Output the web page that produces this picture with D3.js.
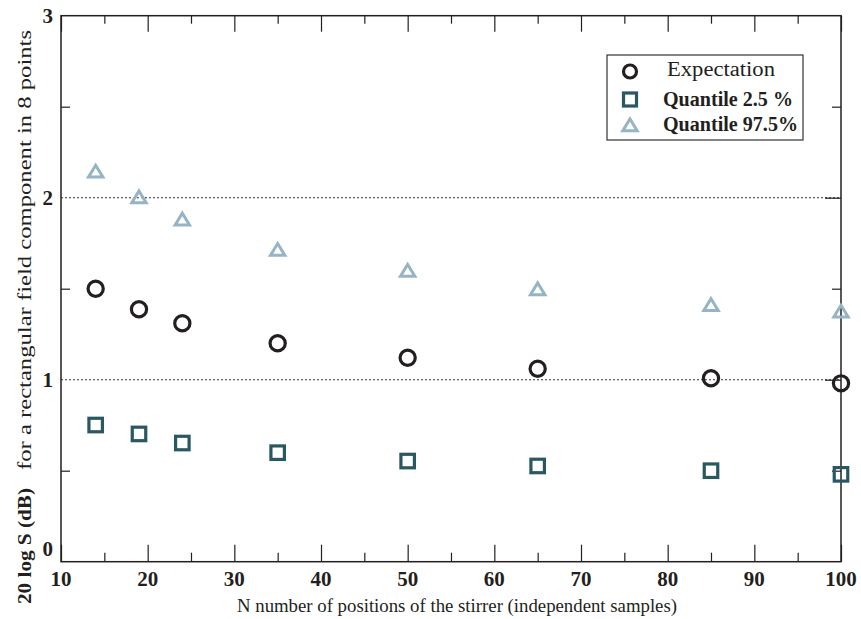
<!DOCTYPE html>
<html>
<head>
<meta charset="utf-8">
<script src="https://cdn.jsdelivr.net/npm/d3@7"></script>
<style>
  html, body { margin: 0; padding: 0; background: #fff; }
  svg { display: block; }
  text { font-family: "Liberation Serif", "Times New Roman", serif; fill: #231f20; }
</style>
</head>
<body>
<svg id="chart" width="861" height="619"></svg>
<script>
// ---- data ----
const N = [14, 19, 24, 35, 50, 65, 85, 100];
const expectation = [1.50, 1.387, 1.31, 1.20, 1.121, 1.06, 1.008, 0.98];
const quantile025 = [0.751, 0.702, 0.652, 0.599, 0.553, 0.526, 0.50, 0.48];
const quantile975 = [2.145, 2.004, 1.882, 1.715, 1.60, 1.499, 1.412, 1.376];
const xTicks = [10, 20, 30, 40, 50, 60, 70, 80, 90, 100];
const xMinorTicks = [15, 25, 35, 45, 55, 65, 75, 85, 95];
const yTicks = [0, 1, 2, 3];
const yMinorTicks = [0.5, 1.5, 2.5];
const gridValues = [1, 2];
const seriesNames = ["Expectation", "Quantile 2.5 %", "Quantile 97.5%"];
const xTitle = "N number of positions of the stirrer (independent samples)";
const yTitleBold = "20 log S (dB)";
const yTitleRest = "for a rectangular field component in 8 points";

// ---- layout ----
const pL = 61, pR = 841, pT = 15.7, pB = 561.7;
const ink = "#231f20";
const colExp = "#231f20", colLo = "#2a5861", colHi = "#96b4c3";

const svg = d3.select("#chart");
const x = d3.scaleLinear().domain([10, 100]).range([pL, pR]);
const y = d3.scaleLinear().domain([0, 3]).range([pB, pT]);

// grid lines (dotted)
svg.append("g").selectAll("line").data(gridValues).join("line")
  .attr("x1", pL).attr("x2", pR)
  .attr("y1", d => y(d)).attr("y2", d => y(d))
  .attr("stroke", "#333").attr("stroke-width", 1.1)
  .attr("stroke-dasharray", "2,2");

function styleAxis(g) {
  g.select(".domain").remove();
  g.selectAll("line").attr("stroke", ink).attr("stroke-width", 1.2);
  g.selectAll("text").remove();
}
svg.append("g").attr("transform", `translate(0,${pB})`)
  .call(d3.axisBottom(x).tickValues(xTicks).tickSizeInner(-17).tickSizeOuter(0)).call(styleAxis);
svg.append("g").attr("transform", `translate(0,${pB})`)
  .call(d3.axisBottom(x).tickValues(xMinorTicks).tickSizeInner(-9).tickSizeOuter(0)).call(styleAxis);
svg.append("g").attr("transform", `translate(0,${pT})`)
  .call(d3.axisTop(x).tickValues(xTicks).tickSizeInner(-16).tickSizeOuter(0)).call(styleAxis);
svg.append("g").attr("transform", `translate(0,${pT})`)
  .call(d3.axisTop(x).tickValues(xMinorTicks).tickSizeInner(-8).tickSizeOuter(0)).call(styleAxis);
svg.append("g").attr("transform", `translate(${pL},0)`)
  .call(d3.axisLeft(y).tickValues(yMinorTicks).tickSizeInner(-9).tickSizeOuter(0)).call(styleAxis);
svg.append("g").attr("transform", `translate(${pR},0)`)
  .call(d3.axisRight(y).tickValues(yMinorTicks).tickSizeInner(-9).tickSizeOuter(0)).call(styleAxis);
svg.append("g").attr("transform", `translate(${pR},0)`)
  .call(d3.axisRight(y).tickValues(gridValues).tickSizeInner(-16).tickSizeOuter(0)).call(styleAxis);

// frame
svg.append("rect").attr("x", pL).attr("y", pT)
  .attr("width", pR - pL).attr("height", pB - pT)
  .attr("fill", "none").attr("stroke", ink).attr("stroke-width", 1.5);

// tick labels
svg.append("g").selectAll("text").data(xTicks).join("text")
  .attr("x", d => x(d)).attr("y", pB + 24)
  .attr("text-anchor", "middle")
  .attr("font-size", 21).attr("font-weight", "bold")
  .text(d => d);
svg.append("g").selectAll("text").data(yTicks).join("text")
  .attr("x", 53)
  .attr("y", d => d === 0 ? y(d) - 6 : y(d) + 7)
  .attr("text-anchor", "end")
  .attr("font-size", 21).attr("font-weight", "bold")
  .text(d => d);

// axis titles
svg.append("text")
  .attr("x", (pL + pR) / 2 + 6).attr("y", 612)
  .attr("text-anchor", "middle").attr("font-size", 19)
  .attr("textLength", 440).attr("lengthAdjust", "spacingAndGlyphs")
  .text(xTitle);

const yt = svg.append("text")
  .attr("transform", "translate(31,604) rotate(-90)")
  .attr("font-size", 19);
yt.append("tspan").attr("font-weight", "bold")
  .attr("textLength", 116).attr("lengthAdjust", "spacingAndGlyphs")
  .text(yTitleBold);
yt.append("tspan").attr("x", 134)
  .attr("textLength", 440).attr("lengthAdjust", "spacingAndGlyphs")
  .text(yTitleRest);

// markers
const triPath = "M0,-6L7.2,5.8L-7.2,5.8Z";
function drawCircles(g, xs, ys, r) {
  g.selectAll("circle").data(d3.zip(xs, ys)).join("circle")
    .attr("cx", d => x(d[0])).attr("cy", d => y(d[1])).attr("r", r)
    .attr("fill", "none").attr("stroke", colExp).attr("stroke-width", 3.2);
}
function drawSquares(g, xs, ys, s) {
  g.selectAll("rect").data(d3.zip(xs, ys)).join("rect")
    .attr("x", d => x(d[0]) - s / 2).attr("y", d => y(d[1]) - s / 2)
    .attr("width", s).attr("height", s)
    .attr("fill", "none").attr("stroke", colLo).attr("stroke-width", 3.2);
}
function drawTriangles(g, xs, ys) {
  g.selectAll("path").data(d3.zip(xs, ys)).join("path")
    .attr("d", triPath)
    .attr("transform", d => `translate(${x(d[0])},${y(d[1])})`)
    .attr("fill", "none").attr("stroke", colHi).attr("stroke-width", 3)
    .attr("stroke-linejoin", "miter");
}
drawTriangles(svg.append("g"), N, quantile975);
drawCircles(svg.append("g"), N, expectation, 7.6);
drawSquares(svg.append("g"), N, quantile025, 13.5);

// legend
const lg = svg.append("g");
lg.append("rect").attr("x", 607).attr("y", 55).attr("width", 196).attr("height", 85)
  .attr("fill", "#fff").attr("stroke", "#333").attr("stroke-width", 1.2);
const legY = [71.5, 99.5, 125];
lg.append("circle").attr("cx", 630).attr("cy", legY[0]).attr("r", 6.5)
  .attr("fill", "none").attr("stroke", colExp).attr("stroke-width", 3.2);
lg.append("rect").attr("x", 630 - 6.5).attr("y", legY[1] - 6.5).attr("width", 13).attr("height", 13)
  .attr("fill", "none").attr("stroke", colLo).attr("stroke-width", 3.2);
lg.append("path").attr("d", triPath).attr("transform", `translate(630,${legY[2]})`)
  .attr("fill", "none").attr("stroke", colHi).attr("stroke-width", 3);
lg.selectAll("text").data(seriesNames).join("text")
  .attr("x", (d, i) => i === 0 ? 667 : 663)
  .attr("y", (d, i) => [76, 105.5, 130.5][i])
  .attr("font-size", 20)
  .attr("font-weight", (d, i) => i === 0 ? "normal" : "bold")
  .attr("textLength", (d, i) => [108, 130, 135][i])
  .attr("lengthAdjust", "spacingAndGlyphs")
  .text(d => d);
</script>
</body>
</html>
